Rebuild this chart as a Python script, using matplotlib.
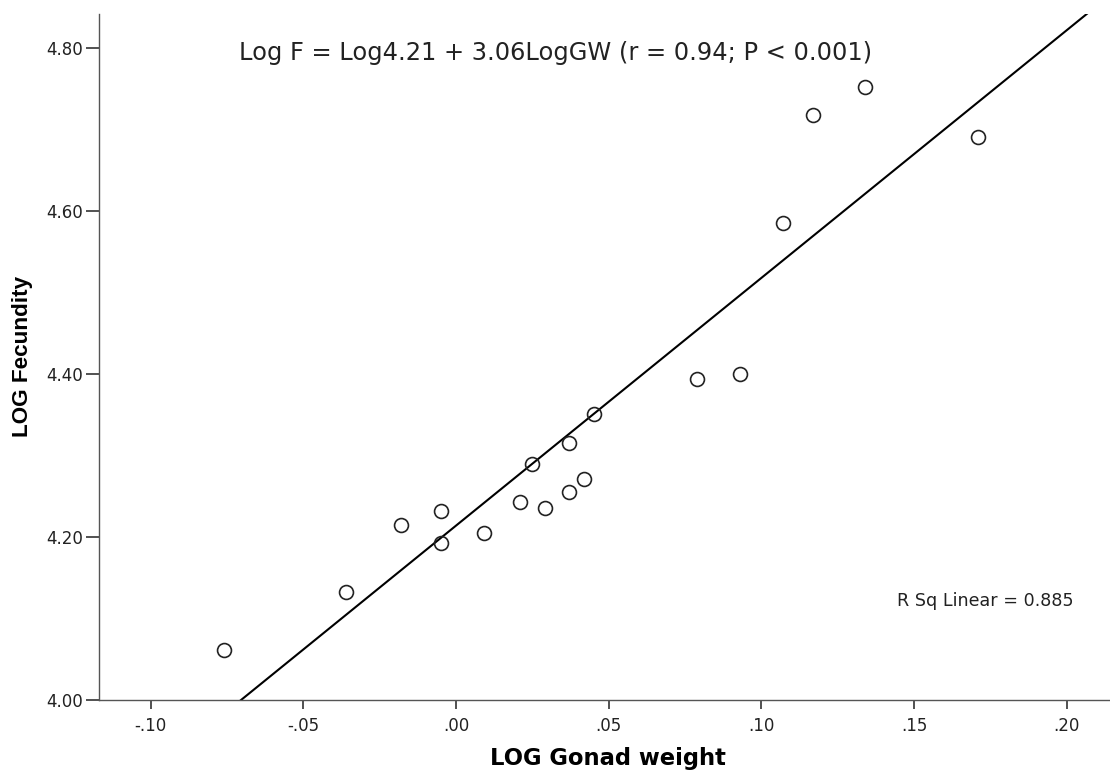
import numpy as np
import matplotlib
matplotlib.use('Agg')
import matplotlib.pyplot as plt

# LOG gonad weight vs LOG fecundity
log_gw = [-0.076, -0.036, -0.018, -0.005, -0.005, 0.009, 0.021, 0.029, 0.025, 0.037,
          0.042, 0.037, 0.045, 0.079, 0.093, 0.107, 0.117, 0.134, 0.171]
log_fec = [4.061, 4.132, 4.215, 4.232, 4.193, 4.205, 4.243, 4.236, 4.289, 4.255,
           4.271, 4.315, 4.351, 4.394, 4.400, 4.585, 4.718, 4.752, 4.691]

# fitted line as drawn
fit_intercept = 4.214
fit_slope = 3.04

x_ticks = [-0.10, -0.05, 0.00, 0.05, 0.10, 0.15, 0.20]
x_ticklabels = ['-.10', '-.05', '.00', '.05', '.10', '.15', '.20']
y_ticks = [4.00, 4.20, 4.40, 4.60, 4.80]
y_ticklabels = ['4.00', '4.20', '4.40', '4.60', '4.80']

eq_text = 'Log F = Log4.21 + 3.06LogGW (r = 0.94; P < 0.001)'
rsq_text = 'R Sq Linear = 0.885'

W, H = 1110, 770
fig = plt.figure(figsize=(W / 100, H / 100), dpi=100)
ax = fig.add_axes([99 / W, 70 / H, (W - 99) / W, 686 / H])

xlim = (-0.1169, 0.2141)
ylim = (4.0, 4.8417)
ax.set_xlim(xlim)
ax.set_ylim(ylim)

# regression line
xx = np.array(xlim)
ax.plot(xx, fit_intercept + fit_slope * xx, color='black', lw=1.5, zorder=2)

# points
ax.plot(log_gw, log_fec, 'o', ms=10, mfc='none', mec='#222222', mew=1.2,
        zorder=3, clip_on=False)

for s in ['top', 'right']:
    ax.spines[s].set_visible(False)
for s in ['left', 'bottom']:
    ax.spines[s].set_color('#555555')
    ax.spines[s].set_linewidth(1.0)

ax.set_xticks(x_ticks)
ax.set_xticklabels(x_ticklabels)
ax.set_yticks(y_ticks)
ax.set_yticklabels(y_ticklabels)
ax.tick_params(axis='x', length=6.5, width=1.2, color='#333333', pad=5.5,
               labelsize=12, labelcolor='#222222')
ax.tick_params(axis='y', length=9.5, width=1.2, color='#333333', pad=2,
               labelsize=12, labelcolor='#222222')

fig.text(608 / W, 1 - 765 / H, 'LOG Gonad weight', ha='center', va='baseline',
         fontsize=16.3, fontweight='bold')
fig.text(23 / W, 1 - 356 / H, 'LOG Fecundity', ha='center', va='center',
         rotation=90, fontsize=16.2, fontweight='bold',
         family=['Liberation Sans Narrow', 'Liberation Sans', 'DejaVu Sans'])

fig.text(239 / W, 1 - 60 / H, eq_text, ha='left', va='baseline',
         fontsize=17.4, color='#222222')
fig.text(897 / W, 1 - 606 / H, rsq_text, ha='left', va='baseline',
         fontsize=12.6, color='#222222')

fig.savefig('out.png', dpi=100, facecolor='white')
